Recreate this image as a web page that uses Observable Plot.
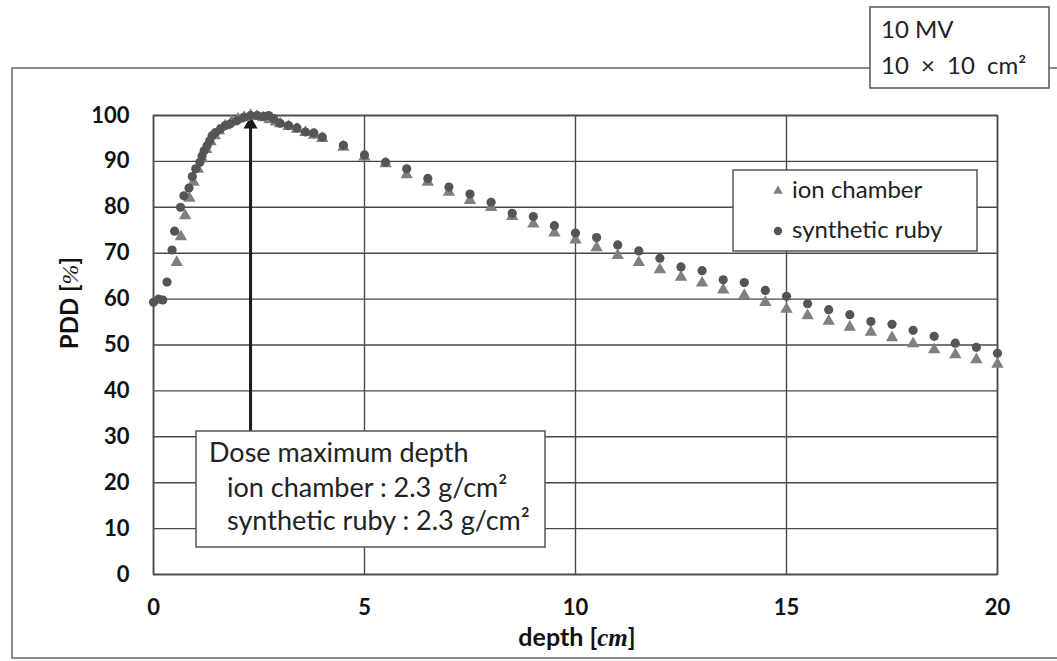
<!DOCTYPE html>
<html><head><meta charset="utf-8">
<script src="https://cdn.jsdelivr.net/npm/d3@7"></script>
<script src="https://cdn.jsdelivr.net/npm/@observablehq/plot@0.6"></script>
<style>
html,body{margin:0;padding:0;background:#fff;}
#chart{width:1057px;height:661px;overflow:hidden;}
</style>
</head><body><div id="chart"></div>
<script>
// ---- data ----
const rubyDepth = [0,0.12,0.22,0.32,0.44,0.5,0.64,0.72,0.84,0.92,1.0,1.1,1.15,1.2,1.27,1.33,1.39,1.47,1.59,1.7,1.82,1.98,2.14,2.3,2.46,2.61,2.73,2.85,3.0,3.2,3.4,3.6,3.8,4.0,4.5,5.0,5.5,6.0,6.5,7.0,7.5,8.0,8.5,9.0,9.5,10,10.5,11,11.5,12,12.5,13,13.5,14,14.5,15,15.5,16,16.5,17,17.5,18,18.5,19,19.5,20];
const rubyPDD = [59.3,60.0,59.8,63.7,70.7,74.8,80.0,82.5,84.2,86.7,88.4,89.8,91.2,92.3,93.4,94.5,95.6,96.3,97.1,97.8,98.2,98.9,99.6,100.0,100.0,99.8,100.0,99.3,98.3,97.8,97.3,96.4,96.2,95.3,93.5,91.4,89.8,88.4,86.3,84.4,82.9,81.1,78.7,78.0,76.0,74.4,73.4,71.8,70.5,68.9,67.0,66.2,64.2,63.6,61.9,60.6,59.0,57.7,56.6,55.1,54.5,53.2,51.9,50.4,49.5,48.2];
const ionDepth = [0.55,0.65,0.75,0.85,0.95,1.05,1.15,1.25,1.35,1.45,1.55,1.7,1.85,2.0,2.15,2.3,2.45,2.6,2.75,2.9,3.0,3.2,3.4,3.6,3.8,4.0,4.5,5.0,5.5,6.0,6.5,7.0,7.5,8.0,8.5,9.0,9.5,10,10.5,11,11.5,12,12.5,13,13.5,14,14.5,15,15.5,16,16.5,17,17.5,18,18.5,19,19.5,20];
const ionPDD = [68.0,73.6,78.2,82.0,85.5,88.3,90.6,92.6,94.3,95.6,96.7,97.8,98.6,99.2,99.6,100.0,99.8,99.5,99.1,98.6,98.2,97.6,97.0,96.3,95.7,95.0,93.1,91.0,89.5,87.1,85.5,83.3,81.5,80.0,78.0,76.4,74.4,72.9,71.2,69.5,68.0,66.4,64.8,63.5,62.0,60.8,59.3,57.8,56.4,55.2,53.9,52.8,51.6,50.3,49.0,47.9,46.8,45.8];
const xTicks = [0,5,10,15,20];
const yTicks = [0,10,20,30,40,50,60,70,80,90,100];
const seriesNames = ["ion chamber","synthetic ruby"];
const beamLines = ["10 MV","10 × 10 cm²"];
const noteLines = ["Dose maximum depth","ion chamber : 2.3 g/cm²","synthetic ruby : 2.3 g/cm²"];
const dmaxDepth = 2.3;      // arrow depth (cm)
const arrowFrom = 31.4;     // arrow tail (%), at the note box
const arrowTo = 99.8;       // arrow tip (%)

const ion = ionDepth.map((d,i)=>({depth:d, pdd:ionPDD[i]}));
const ruby = rubyDepth.map((d,i)=>({depth:d, pdd:rubyPDD[i]}));

const FONT = "Lato, 'Open Sans', sans-serif";
const GRID = "#4a4a4a";

const chart = Plot.plot({
  width:1057, height:661,
  marginLeft:153, marginRight:60, marginTop:115, marginBottom:87,
  style:{fontFamily:FONT, background:"#fff", color:"#111"},
  x:{domain:[0,20]},
  y:{domain:[0,100]},
  marks:[
    Plot.gridX(xTicks,{stroke:GRID, strokeOpacity:1, strokeWidth:1.4}),
    Plot.gridY(yTicks,{stroke:GRID, strokeOpacity:1, strokeWidth:1.4}),
    Plot.frame({stroke:GRID, strokeWidth:1.6}),
    Plot.axisX(xTicks,{tickSize:0, tickPadding:25, fontSize:22, fontWeight:"bold", label:null}),
    Plot.axisY(yTicks,{tickSize:0, tickPadding:24, fontSize:22, fontWeight:"bold", label:null}),
    Plot.ruleX([dmaxDepth],{y1:arrowFrom, y2:arrowTo, dy:8, stroke:"#1a1a1a", strokeWidth:3}),
    Plot.dot([dmaxDepth],{x:d=>d, y:arrowTo, dy:8, symbol:"triangle", r:5.2, fill:"#1a1a1a", stroke:"none"}),
    Plot.dot(ion,{x:"depth", y:"pdd", symbol:"triangle", r:4.6, fill:"#808080", stroke:"none"}),
    Plot.dot(ruby,{x:"depth", y:"pdd", symbol:"circle", r:4.6, fill:"#555555", stroke:"none"})
  ]
});
document.getElementById("chart").appendChild(chart);

const svg = d3.select(chart);
// outer frame
svg.insert("rect", ":first-child").attr("x",12).attr("y",68).attr("width",1100).attr("height",590)
  .attr("fill","none").attr("stroke","#666").attr("stroke-width",1.5);

// axis titles
const xl = svg.append("text").attr("x",577).attr("y",646).attr("text-anchor","middle")
  .attr("font-family",FONT).attr("font-size",25).attr("font-weight","bold").attr("fill","#111");
xl.append("tspan").text("depth [");
xl.append("tspan").attr("font-family","'Liberation Serif', serif").attr("font-style","italic").attr("font-weight","bold").text("cm");
xl.append("tspan").text("]");

const yl = svg.append("text").attr("transform","translate(78,303) rotate(-90)").attr("text-anchor","middle")
  .attr("font-family",FONT).attr("font-size",24).attr("font-weight","bold").attr("fill","#111");
yl.append("tspan").text("PDD [");
yl.append("tspan").attr("font-family","'Liberation Serif', serif").attr("font-style","italic").attr("font-weight","normal").text("%");
yl.append("tspan").text("]");

// beam box
const bb = svg.append("g").attr("text-anchor","start");
bb.append("rect").attr("x",870).attr("y",7).attr("width",179).attr("height",81).attr("fill","#fff").attr("stroke","#555").attr("stroke-width",1.5);
bb.selectAll("text").data(beamLines).join("text").attr("x",881).attr("y",(d,i)=>38+i*36)
  .attr("font-family",FONT).attr("font-size",24).attr("fill","#222")
  .attr("word-spacing",(d,i)=>i===1?6:0).text(d=>d);

// legend box
const lg = svg.append("g").attr("text-anchor","start");
lg.append("rect").attr("x",733).attr("y",170).attr("width",244).attr("height",81).attr("fill","#fff").attr("stroke","#555").attr("stroke-width",1.5);
lg.append("path").attr("d",d3.symbol(d3.symbolTriangle, 40)()).attr("transform","translate(778,191)").attr("fill","#808080");
lg.append("circle").attr("cx",778).attr("cy",231).attr("r",4.2).attr("fill","#555");
lg.selectAll("text").data(seriesNames).join("text").attr("x",792).attr("y",(d,i)=>198+i*40)
  .attr("font-family",FONT).attr("font-size",24).attr("fill","#222").text(d=>d);

// note box
const nb = svg.append("g").attr("text-anchor","start");
nb.append("rect").attr("x",196).attr("y",431).attr("width",349).attr("height",116).attr("fill","#fff").attr("stroke","#555").attr("stroke-width",1.5);
nb.selectAll("text").data(noteLines).join("text").attr("x",(d,i)=>i===0?209:227).attr("y",(d,i)=>[462,497,530][i])
  .attr("font-family",FONT).attr("font-size",27).attr("fill","#222").text(d=>d);
</script>
</body></html>
